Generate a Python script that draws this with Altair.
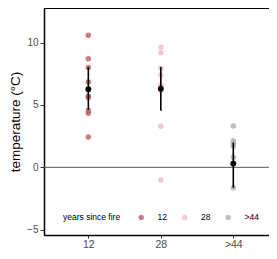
import altair as alt
import pandas as pd

groups = ["12", "28", ">44"]
vals_12 = [10.6, 8.7, 8.0, 6.85, 5.72, 5.6, 4.55, 4.33, 2.43]
vals_28 = [9.63, 9.2, 7.95, 7.4, 6.6, 6.15, 6.4, 3.3, -1.02]
vals_44 = [3.31, 2.14, 1.93, 1.71, 0.8, 0.3, -1.64]

means = [6.27, 6.3, 0.3]
lows = [4.62, 4.54, -1.64]
highs = [8.05, 8.05, 1.98]

colors = ["#b5515a", "#f2b3c1", "#a8a8a8"]

pts = pd.DataFrame(
    [{"grp": "12", "temp": v} for v in vals_12]
    + [{"grp": "28", "temp": v} for v in vals_28]
    + [{"grp": ">44", "temp": v} for v in vals_44]
)
summ = pd.DataFrame({"grp": groups, "mean": means, "lo": lows, "hi": highs})

xscale = alt.Scale(domain=groups, type="point", padding=0.552, align=0.554)
yscale = alt.Scale(domain=[-5.43, 12.78], nice=False, zero=False)

FONT = "Liberation Sans"
xax = alt.Axis(title=None, labelFontSize=10.5, labelColor="#4d4d4d", labelAngle=0,
               domainColor="black", domainWidth=1.5, tickColor="#333", tickSize=3,
               labelPadding=1, grid=False, labelFont=FONT)
yax = alt.Axis(title="temperature (°C)", values=[-5, 0, 5, 10], titleFontSize=13.5,
               titleFontWeight="normal", titleColor="black", titleFont=FONT,
               labelFontSize=10, labelColor="#4d4d4d", labelFont=FONT,
               domainColor="black", domainWidth=1.5, tickColor="#333", tickSize=4,
               labelPadding=2, grid=False, titlePadding=4)

zero = alt.Chart(pd.DataFrame({"y": [0]})).mark_rule(color="#555", strokeWidth=1).encode(
    y=alt.Y("y:Q", scale=yscale, axis=yax)
)

points = alt.Chart(pts).mark_circle(size=30, opacity=0.75).encode(
    x=alt.X("grp:N", scale=xscale, axis=xax, sort=groups),
    y=alt.Y("temp:Q", scale=yscale, axis=yax),
    color=alt.Color("grp:N", sort=groups,
                    scale=alt.Scale(domain=groups, range=colors),
                    legend=alt.Legend(title="years since fire", orient="none",
                                      direction="horizontal", titleOrient="left",
                                      legendX=19, legendY=205,
                                      titleFontSize=8.5, titleFontWeight="normal",
                                      titleFont=FONT, titleColor="black",
                                      labelFontSize=8.5, labelFont=FONT,
                                      labelColor="black", symbolSize=28,
                                      symbolOpacity=0.75, columnPadding=13.5,
                                      titlePadding=16, labelOffset=12,
                                      titleBaseline="middle")),
)

bars = alt.Chart(summ).mark_rule(color="black", strokeWidth=1.6).encode(
    x=alt.X("grp:N", scale=xscale, sort=groups),
    y=alt.Y("lo:Q", scale=yscale),
    y2="hi:Q",
)

mean_pts = alt.Chart(summ).mark_circle(size=34, color="black", opacity=1).encode(
    x=alt.X("grp:N", scale=xscale, sort=groups),
    y=alt.Y("mean:Q", scale=yscale),
)

chart = alt.layer(zero, points, bars, mean_pts).properties(
    width=225, height=227,
    autosize=alt.AutoSizeParams(type="none"),
    padding={"left": 36, "top": 0, "right": 0, "bottom": 16},
).configure_view(stroke="black", strokeWidth=1)

chart.save("out.html", embed_options={"renderer": "svg", "actions": False})
